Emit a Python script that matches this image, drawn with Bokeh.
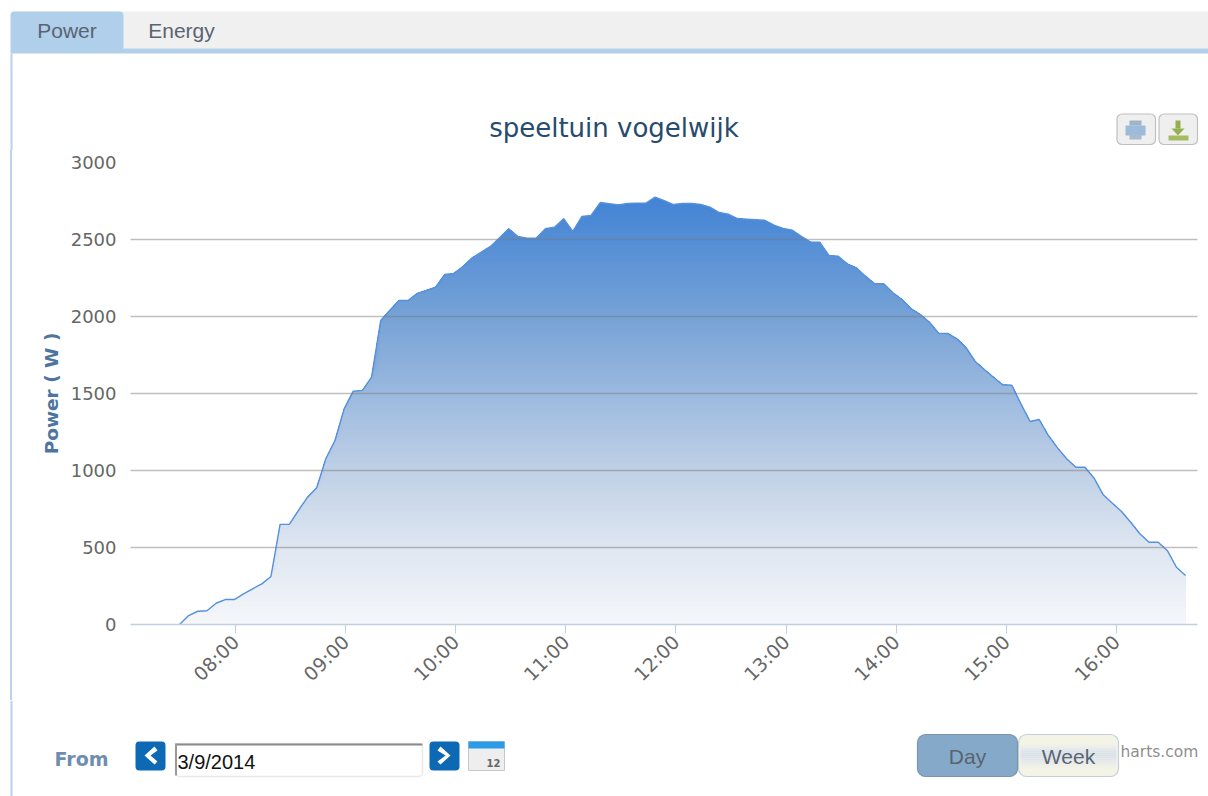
import numpy as np
from bokeh.embed import file_html
from bokeh.layouts import column, row
from bokeh.models import (BoxAnnotation, DatetimeTickFormatter, Div, FixedTicker,
                          Label, PolyAnnotation, Range1d, Spacer)
from bokeh.plotting import figure
from bokeh.resources import INLINE

# ---- data ----
chart_title = "speeltuin vogelwijk"
y_title = "Power ( W )"
tabs = ["Power", "Energy"]
start_time = "2014-03-09T07:29:30"
step_seconds = 299
power_w = [
    0, 58, 86, 89, 138, 162, 162, 199, 232, 264, 312, 650, 650, 740, 827, 888, 1076, 1195, 1400, 1515,
    1520, 1606, 1974, 2040, 2104, 2104, 2150, 2170, 2190, 2273, 2280,
    2325, 2381, 2418, 2455, 2511, 2570, 2520, 2508, 2508, 2570, 2580, 2635, 2552, 2650, 2656, 2740, 2732,
    2725, 2734, 2736, 2736, 2775, 2753, 2727, 2734, 2734, 2727, 2710, 2675, 2664, 2636, 2632, 2628, 2625,
    2593, 2572, 2560,
    2520, 2483, 2483, 2396, 2392, 2342, 2316, 2262, 2212, 2212, 2154, 2110, 2050, 2013, 1963, 1892, 1890,
    1855, 1797, 1708, 1656, 1606, 1557, 1554, 1433, 1318, 1331, 1227, 1147, 1076, 1021, 1021, 950, 842,
    788, 734, 664, 589, 534, 534, 481, 372, 318,
]
y_ticks = [0, 500, 1000, 1500, 2000, 2500, 3000]
x_tick_hours = ["08:00", "09:00", "10:00", "11:00", "12:00", "13:00", "14:00", "15:00", "16:00"]
date_text = "3/9/2014"
range_labels = ["Day", "Week"]


def ms(stamp):
    return np.datetime64(stamp, "ms").astype("int64").astype(float)


times = ms(start_time) + np.arange(len(power_w)) * step_seconds * 1000.0
values = np.array(power_w, dtype=float)
x_ticks = [ms(f"2014-03-09T{h}:00") for h in x_tick_hours]

W, H = 1208, 796
STRIP = 12            # narrow column that holds the page's left rule
Y1, Y2 = 150, 700     # page rows where the chart figure starts and ends
FL, FR, FT, FB = 130, 1197, 162, 624
RULE = "#b9d3ec"

# ---- the chart ----
p = figure(
    width=W - STRIP, height=Y2 - Y1, output_backend="svg", toolbar_location=None,
    x_axis_type="datetime",
    x_range=Range1d(ms("2014-03-09T07:02:48"), ms("2014-03-09T16:44:10")),
    y_range=Range1d(0, 3000),
    min_border_left=FL - STRIP, min_border_right=W - FR,
    min_border_top=FT - Y1, min_border_bottom=Y2 - FB,
    outline_line_color=None, background_fill_color="white", border_fill_color="white",
)

# gradient fill: painted from the tallest slice down, so that no seams show
stop_w = [0, 500, 1000, 1500, 2000, 2775]
stop_r = [245, 222, 191, 155, 118, 66]
stop_g = [247, 230, 208, 185, 162, 131]
stop_b = [250, 241, 230, 223, 214, 213]
px = 3000 / (FB - FT)
edges = np.arange(0, values.max() + 2 * px, 2 * px)
for hi in edges[:0:-1]:
    w = hi - px
    c = (np.interp(w, stop_w, stop_r), np.interp(w, stop_w, stop_g), np.interp(w, stop_w, stop_b))
    p.varea(x=times, y1=np.zeros_like(values), y2=np.minimum(values, hi),
            fill_color="#%02x%02x%02x" % tuple(int(round(v)) for v in c))
p.line(times, values, line_color="#5591dc", line_width=1.4)

xa = p.xaxis[0]
xa.ticker = FixedTicker(ticks=x_ticks)
xa.formatter = DatetimeTickFormatter(hours="%H:%M", minutes="%H:%M", days="%H:%M", hourmin="%H:%M")
xa.major_label_orientation = np.pi / 4
xa.major_label_text_font = "DejaVu Sans"
xa.major_label_text_font_size = "19px"
xa.major_label_text_color = "#666666"
xa.major_tick_line_color = "#c0d0e0"
xa.major_tick_in = 0
xa.major_tick_out = 9
xa.minor_tick_line_color = None
xa.axis_line_color = "#c0d0e0"
xa.axis_line_width = 1.5

ya = p.yaxis[0]
ya.ticker = FixedTicker(ticks=y_ticks)
ya.major_label_text_font = "DejaVu Sans"
ya.major_label_text_font_size = "18px"
ya.major_label_text_color = "#666666"
ya.major_tick_line_color = None
ya.minor_tick_line_color = None
ya.axis_line_color = None
ya.major_label_standoff = 8
ya.axis_label = y_title
ya.axis_label_text_font = "DejaVu Sans"
ya.axis_label_text_font_style = "bold"
ya.axis_label_text_font_size = "18.5px"
ya.axis_label_text_color = "#4d759e"
ya.axis_label_standoff = 6

p.xgrid.visible = False
g = p.ygrid[0]
g.ticker = FixedTicker(ticks=y_ticks)
g.bounds = (500, 3000)
g.grid_line_color = "#7a7a7a"
g.grid_line_alpha = 0.48
g.grid_line_width = 1.5
g.level = "overlay"


# ---- page furniture: separate frame-only figures, drawn in page pixels ----
class Panel:
    def __init__(self, left, top, right, bottom):
        self.ox, self.oy = left, top
        self.fig = figure(width=right - left, height=bottom - top, output_backend="svg",
                          toolbar_location=None, x_axis_location=None, y_axis_location=None,
                          x_range=Range1d(0, right - left), y_range=Range1d(0, bottom - top),
                          min_border=0, min_border_left=0, min_border_right=0,
                          min_border_top=0, min_border_bottom=0,
                          outline_line_color=None, border_fill_color="white")
        self.fig.grid.visible = False

    def box(self, l, t, r, b, fill, line=None, radius=0, width=1):
        self.fig.add_layout(BoxAnnotation(
            left=l - self.ox, right=r - self.ox, top=t - self.oy, bottom=b - self.oy,
            left_units="canvas", right_units="canvas", top_units="canvas", bottom_units="canvas",
            fill_color=fill, fill_alpha=1, line_color=line, line_width=width, line_alpha=1,
            border_radius=radius))

    def text(self, x, y, s, size, color, font="Liberation Sans", style="normal", align="left"):
        self.fig.add_layout(Label(
            x=x - self.ox, y=y - self.oy, x_units="canvas", y_units="canvas", text=s,
            text_font=font, text_font_size=f"{size}px", text_font_style=style,
            text_color=color, text_align=align, text_baseline="middle"))

    def poly(self, pts, fill):
        self.fig.add_layout(PolyAnnotation(
            xs=[a - self.ox for a, _ in pts], ys=[b - self.oy for _, b in pts],
            xs_units="canvas", ys_units="canvas",
            fill_color=fill, fill_alpha=1, line_color=None))


top = Panel(0, 0, W, Y1)
top.box(11, 11, W, 48, "#f0f0f0")
top.box(10, 48, W, 53, "#b3d0ea")
top.box(10, 11, 123, 50, "#b0cfeb", radius=4)
top.box(10, 53, 12, Y1, RULE)
top.text(66.5, 30, tabs[0], 21, "#5a6470", align="center")
top.text(181, 30, tabs[1], 21, "#5a6470", align="center")
top.text(613.5, 127, chart_title, 26, "#274b6d", "DejaVu Sans", align="center")
# export buttons
top.box(1116.5, 113.5, 1155, 144, "#efefef", "#c0c0c0", radius=5, width=1.2)
top.box(1158.5, 113.5, 1197, 144, "#efefef", "#c0c0c0", radius=5, width=1.2)
top.box(1129, 120, 1141, 125, "#9fb4c8")
top.box(1125, 125, 1145, 135, "#9cbbdb")
top.box(1129, 134, 1141, 139, "#a9bccd")
top.box(1175, 120, 1180, 128, "#96b050")
top.poly([(1171, 128), (1184, 128), (1177.5, 135)], "#96b050")
top.box(1168, 135, 1188, 140, "#a5bb62")

rule = Div(text="", width=2, height=Y2 - Y1, margin=0, styles={"background-color": RULE})
left_gap = Spacer(width=10, height=Y2 - Y1, margin=0)

bot = Panel(0, Y2, W, H)
bot.box(10, Y2, 12, H, RULE)
bot.text(54, 758, "From", 19, "#6f8db1", "DejaVu Sans", "bold")
bot.box(135, 741, 165, 770, "#0d69b4", radius=4)
bot.poly([(154, 746), (157, 750), (150, 755), (157, 761), (154, 764), (144, 755)], "white")
bot.box(429, 741, 459, 770, "#0d69b4", radius=4)
bot.poly([(440, 746), (437, 750), (445, 755), (437, 761), (440, 764), (450, 755)], "white")
bot.box(175, 743, 422, 776, "white", "#e8e8e8", radius=4, width=1.5)
bot.box(175, 743, 422, 745, "#8a8a8a")
bot.box(174.5, 743, 176.5, 775, "#9a9a9a")
bot.text(177, 761, date_text, 20, "#111111")
bot.box(468, 741, 504, 770, "#eeeeee", "#c8c8c8")
bot.box(468, 741, 504, 748, "#2b9be8")
bot.text(493, 762, "12", 10, "#666666", "DejaVu Sans", "bold", "center")
bot.text(1120, 751, "harts.com", 15.5, "#8f8f8f", "DejaVu Sans")
# Week button: pale top and bottom with a soft grey-blue middle
bot.box(1018, 734, 1118, 776, "#f3f4e6", "#c4ced8", radius=8, width=1.2)
for row_top, shade in zip(range(744, 768, 2),
                          ["#eff1e8", "#e9ecea", "#e2e7ec", "#dde3ea", "#dae1e9", "#dae1e9",
                           "#dce3ea", "#dfe5ea", "#e3e8ea", "#e8ebe9", "#edefe8", "#f1f2e7"]):
    bot.box(1020, row_top, 1116, row_top + 2, shade)
bot.box(917, 734, 1017, 776, "#85a9c8", "#7d95a8", radius=8, width=1.2)
bot.text(967, 756, range_labels[0], 21, "#5a6470", align="center")
bot.text(1068, 756, range_labels[1], 21, "#5a6470", align="center")

page = column(top.fig, row(left_gap, rule, p, spacing=0), bot.fig, spacing=0)
open("out.html", "w").write(file_html(page, INLINE))
